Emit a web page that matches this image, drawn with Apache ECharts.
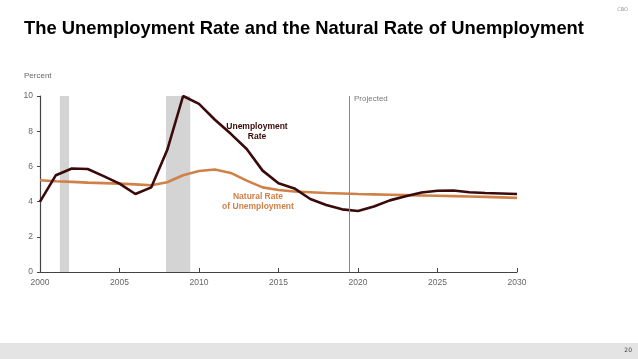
<!DOCTYPE html>
<html>
<head>
<meta charset="utf-8">
<script src="https://cdn.jsdelivr.net/npm/echarts@6/dist/echarts.min.js"></script>
<style>
html,body{margin:0;padding:0;background:#fff;}
#c{width:638px;height:359px;}
</style>
</head>
<body>
<div id="c"></div>
<script>
const years = [2000,2001,2002,2003,2004,2005,2006,2007,2008,2009,2010,2011,2012,2013,2014,2015,2016,2017,2018,2019,2020,2021,2022,2023,2024,2025,2026,2027,2028,2029,2030];
const unemploymentRate = [4.0,5.5,5.88,5.85,5.45,5.02,4.43,4.81,6.93,10.0,9.55,8.65,7.85,6.99,5.76,5.04,4.75,4.15,3.81,3.56,3.47,3.72,4.07,4.3,4.52,4.62,4.63,4.53,4.49,4.46,4.43];
const naturalRate = [5.21,5.16,5.12,5.08,5.05,5.02,4.98,4.93,5.1,5.5,5.74,5.82,5.63,5.19,4.81,4.66,4.57,4.53,4.49,4.46,4.43,4.41,4.39,4.37,4.35,4.33,4.31,4.29,4.27,4.24,4.21];
const recessions = [[2001.25, 2001.83], [2007.92, 2009.45]];
const projectedStart = 2019.46;
const yTicks = [0,2,4,6,8,10];

const chart = echarts.init(document.getElementById('c'), null, {renderer:'canvas'});
const txt = '#666';
const font = '"Liberation Sans", Arial, sans-serif';
chart.setOption({
  animation:false,
  backgroundColor:'#fff',
  grid:{left:40, right:121, top:96, bottom:87},
  xAxis:{
    type:'value', min:2000, max:2030, interval:5,
    axisLine:{lineStyle:{color:'#444', width:1.2}},
    axisTick:{inside:true, length:4, lineStyle:{color:'#444'}},
    axisLabel:{color:txt, fontSize:8.5, fontFamily:font, margin:6, formatter:v=>String(v)},
    splitLine:{show:false}
  },
  yAxis:{
    type:'value', min:0, max:10, interval:2,
    axisLine:{show:true, lineStyle:{color:'#444', width:1.2}},
    axisTick:{show:true, length:3, lineStyle:{color:'#444'}},
    axisLabel:{color:txt, fontSize:8.5, fontFamily:font, margin:7, formatter:v=>yTicks.includes(v)?String(v):''},
    splitLine:{show:false}
  },
  series:[
    {
      type:'line', name:'Natural Rate', data:years.map((y,i)=>[y,naturalRate[i]]),
      showSymbol:false, lineStyle:{color:'#cf8148', width:2.6}, z:3,
      markArea:{silent:true, itemStyle:{color:'#d4d4d4'}, data:recessions.map(r=>[{xAxis:r[0]},{xAxis:r[1]}])},
      markLine:{silent:true, symbol:'none', label:{show:false}, lineStyle:{color:'#888', width:1, type:'solid'}, data:[{xAxis:projectedStart}]}
    },
    {
      type:'line', name:'Unemployment Rate', data:years.map((y,i)=>[y,unemploymentRate[i]]),
      showSymbol:false, lineStyle:{color:'#3a0a0a', width:2.6}, z:4
    }
  ],
  graphic:[
    {type:'text', left:24, top:20, style:{text:'The Unemployment Rate and the Natural Rate of Unemployment', font:'bold 18.4px "Liberation Sans", Arial, sans-serif', fill:'#000'}},
    {type:'text', right:10, top:7, style:{text:'CBO', font:'5px "DejaVu Sans", sans-serif', fill:'#999'}},
    {type:'text', left:24, top:72, style:{text:'Percent', font:'8px "Liberation Sans", Arial, sans-serif', fill:'#666'}},
    {type:'text', left:354, top:95, style:{text:'Projected', font:'8px "Liberation Sans", Arial, sans-serif', fill:'#777'}},
    {type:'text', x:257, y:122, style:{text:'Unemployment\nRate', font:'bold 8.5px "Liberation Sans", Arial, sans-serif', fill:'#3a0a0a', textAlign:'center', lineHeight:10}},
    {type:'text', x:258, y:192, style:{text:'Natural Rate\nof Unemployment', font:'bold 8.5px "Liberation Sans", Arial, sans-serif', fill:'#cf8148', textAlign:'center', lineHeight:10}},
    {type:'rect', shape:{x:0, y:343, width:638, height:16}, style:{fill:'#e4e4e4'}, z:-1},
    {type:'text', right:6, top:347, style:{text:'20', font:'6px "DejaVu Sans", sans-serif', fill:'#444'}}
  ]
});
</script>
</body>
</html>
